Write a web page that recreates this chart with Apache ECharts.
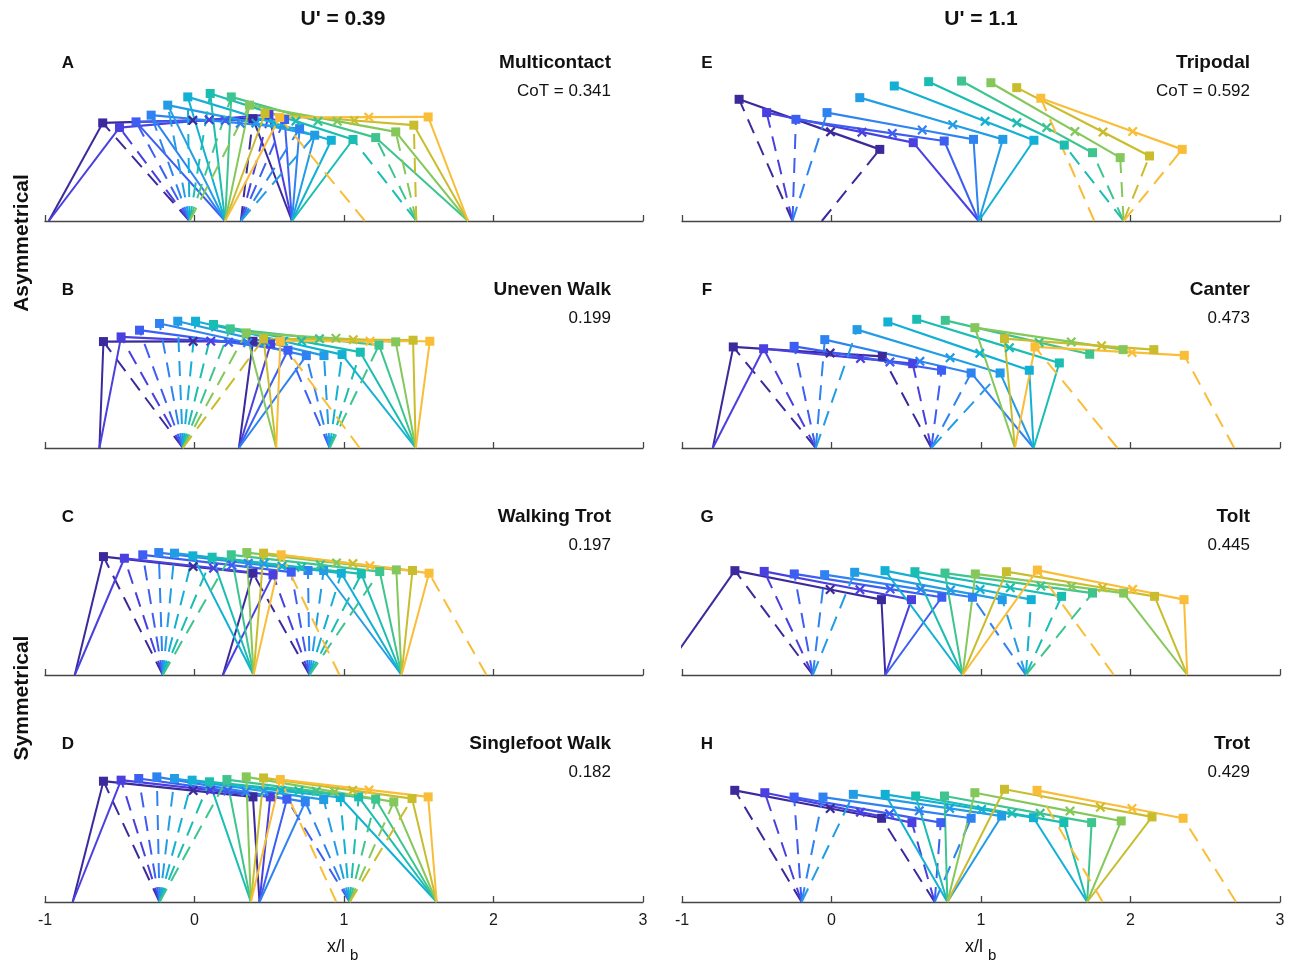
<!DOCTYPE html>
<html><head><meta charset="utf-8">
<script src="https://cdn.jsdelivr.net/npm/echarts/dist/echarts.min.js"></script>
<style>html,body{margin:0;padding:0;background:#fff}#c{width:1297px;height:966px}</style>
</head><body><div id="c"></div>
<script>
// ---------- text / labels ----------
const speedTitles = ["U' = 0.39", "U' = 1.1"];
const rowLabels = ["Asymmetrical", "Symmetrical"];
const panelLetters = ["A","B","C","D","E","F","G","H"];
const gaitNames = ["Multicontact","Uneven Walk","Walking Trot","Singlefoot Walk","Tripodal","Canter","Tolt","Trot"];
const cotValues = [0.341, 0.199, 0.197, 0.182, 0.592, 0.473, 0.445, 0.429];
const xTickValues = [-1, 0, 1, 2, 3];
const comFraction = [0.60, 0.65]; // COM position along the body (hip -> shoulder), per column

// ---------- A: Multicontact ----------
const A_hipX = [-0.614,-0.502,-0.391,-0.290,-0.179,-0.045,0.105,0.246,0.368,0.472,0.570];
const A_hipY = [0.656,0.625,0.663,0.708,0.775,0.830,0.853,0.830,0.775,0.719,0.692];
const A_shX  = [0.391,0.498,0.603,0.703,0.804,0.915,1.060,1.212,1.346,1.467,1.563];
const A_shY  = [0.685,0.712,0.679,0.618,0.574,0.540,0.545,0.558,0.596,0.641,0.696];
const A_legs = [
 [1,'H',-0.975,'stance'],[1,'H',-0.033,'swing'],[1,'F',0.652,'stance'],[1,'F',0.31,'swing'],
 [2,'H',-0.975,'stance'],[2,'H',-0.033,'swing'],[2,'F',0.652,'stance'],[2,'F',0.31,'swing'],
 [3,'H',0.205,'stance'],[3,'H',-0.033,'swing'],[3,'F',0.652,'stance'],[3,'F',0.31,'swing'],
 [4,'H',0.205,'stance'],[4,'H',-0.033,'swing'],[4,'F',0.652,'stance'],[4,'F',0.31,'swing'],
 [5,'H',0.205,'stance'],[5,'H',-0.033,'swing'],[5,'F',0.652,'stance'],[5,'F',0.31,'swing'],
 [6,'H',0.205,'stance'],[6,'H',-0.033,'swing'],[6,'F',0.652,'stance'],
 [7,'H',0.205,'stance'],[7,'H',-0.033,'swing'],[7,'F',0.652,'stance'],[7,'F',1.484,'swing'],
 [8,'H',0.205,'stance'],[8,'H',-0.033,'swing'],[8,'F',1.484,'swing'],[8,'F',1.83,'stance'],
 [9,'H',0.205,'stance'],[9,'H',-0.033,'swing'],[9,'F',1.484,'swing'],[9,'F',1.83,'stance'],
 [10,'H',0.205,'stance'],[10,'F',1.484,'swing'],[10,'F',1.83,'stance'],
 [11,'H',0.205,'stance'],[11,'H',1.14,'swing'],[11,'F',1.83,'stance']
];

// ---------- B: Uneven Walk ----------
const B_hipX = [-0.609,-0.491,-0.368,-0.234,-0.112,0.007,0.127,0.239,0.346,0.462,0.574];
const B_hipY = [0.712,0.743,0.788,0.833,0.848,0.848,0.826,0.797,0.770,0.730,0.714];
const B_shX  = [0.391,0.509,0.625,0.748,0.866,0.987,1.109,1.234,1.346,1.462,1.574];
const B_shY  = [0.714,0.696,0.654,0.618,0.618,0.625,0.641,0.688,0.710,0.721,0.714];
const B_legs = [
 [1,'H',-0.636,'stance'],[1,'H',-0.078,'swing'],[1,'F',0.297,'stance'],
 [2,'H',-0.636,'stance'],[2,'H',-0.078,'swing'],[2,'F',0.297,'stance'],
 [3,'H',-0.078,'swing'],[3,'F',0.297,'stance'],[3,'F',0.904,'swing'],
 [4,'H',-0.078,'swing'],[4,'F',0.297,'stance'],[4,'F',0.904,'swing'],
 [5,'H',-0.078,'swing'],[5,'F',0.904,'swing'],
 [6,'H',-0.078,'swing'],[6,'F',0.904,'swing'],[6,'F',1.48,'stance'],
 [7,'H',-0.078,'swing'],[7,'F',0.904,'swing'],[7,'F',1.48,'stance'],
 [8,'H',-0.078,'swing'],[8,'F',0.904,'swing'],[8,'F',1.48,'stance'],
 [9,'H',0.547,'stance'],[9,'H',-0.078,'swing'],[9,'F',1.48,'stance'],
 [10,'H',0.547,'stance'],[10,'H',-0.078,'swing'],[10,'F',1.48,'stance'],
 [11,'H',0.547,'stance'],[11,'H',1.105,'swing'],[11,'F',1.48,'stance']
];

// ---------- C: Walking Trot ----------
const C_hipX = [-0.609,-0.469,-0.346,-0.239,-0.134,-0.011,0.118,0.246,0.350,0.462,0.580];
const C_hipY = [0.792,0.781,0.804,0.819,0.815,0.797,0.788,0.804,0.819,0.815,0.804];
const C_shX  = [0.391,0.525,0.647,0.759,0.864,0.982,1.116,1.239,1.350,1.458,1.569];
const C_shY  = [0.681,0.670,0.688,0.699,0.699,0.681,0.676,0.692,0.703,0.699,0.681];
const C_legs = [
 [1,'H',-0.801,'stance'],[1,'H',-0.212,'swing'],[1,'F',0.19,'stance'],[1,'F',0.77,'swing'],
 [2,'H',-0.801,'stance'],[2,'H',-0.212,'swing'],[2,'F',0.19,'stance'],[2,'F',0.77,'swing'],
 [3,'H',-0.212,'swing'],[3,'F',0.77,'swing'],
 [4,'H',-0.212,'swing'],[4,'F',0.77,'swing'],
 [5,'H',-0.212,'swing'],[5,'F',0.77,'swing'],[5,'F',1.385,'stance'],
 [6,'H',0.395,'stance'],[6,'H',-0.212,'swing'],[6,'F',0.77,'swing'],[6,'F',1.385,'stance'],
 [7,'H',0.395,'stance'],[7,'H',-0.212,'swing'],[7,'F',0.77,'swing'],[7,'F',1.385,'stance'],
 [8,'H',0.395,'stance'],[8,'H',-0.212,'swing'],[8,'F',0.77,'swing'],[8,'F',1.385,'stance'],
 [9,'H',0.395,'stance'],[9,'F',1.385,'stance'],
 [10,'H',0.395,'stance'],[10,'F',1.385,'stance'],
 [11,'H',0.395,'stance'],[11,'H',0.97,'swing'],[11,'F',1.385,'stance'],[11,'F',1.953,'swing']
];

// ---------- D: Singlefoot Walk ----------
const D_hipX = [-0.609,-0.491,-0.373,-0.252,-0.134,-0.016,0.100,0.217,0.346,0.462,0.574];
const D_hipY = [0.808,0.815,0.826,0.837,0.826,0.815,0.804,0.819,0.837,0.830,0.819];
const D_shX  = [0.391,0.507,0.618,0.741,0.864,0.975,1.098,1.212,1.333,1.455,1.563];
const D_shY  = [0.703,0.703,0.688,0.670,0.685,0.699,0.703,0.688,0.670,0.692,0.703];
const D_legs = [
 [1,'H',-0.815,'stance'],[1,'H',-0.234,'swing'],[1,'F',0.435,'stance'],
 [2,'H',-0.815,'stance'],[2,'H',-0.234,'swing'],[2,'F',0.435,'stance'],
 [3,'H',-0.234,'swing'],[3,'F',0.435,'stance'],[3,'F',1.038,'swing'],
 [4,'H',-0.234,'swing'],[4,'F',0.435,'stance'],[4,'F',1.038,'swing'],
 [5,'H',-0.234,'swing'],[5,'F',1.038,'swing'],
 [6,'H',-0.234,'swing'],[6,'F',1.038,'swing'],[6,'F',1.62,'stance'],
 [7,'H',0.377,'stance'],[7,'H',-0.234,'swing'],[7,'F',1.038,'swing'],[7,'F',1.62,'stance'],
 [8,'H',0.377,'stance'],[8,'H',-0.234,'swing'],[8,'F',1.038,'swing'],[8,'F',1.62,'stance'],
 [9,'H',0.377,'stance'],[9,'F',1.038,'swing'],[9,'F',1.62,'stance'],
 [10,'H',0.377,'stance'],[10,'F',1.038,'swing'],[10,'F',1.62,'stance'],
 [11,'H',0.377,'stance'],[11,'H',0.949,'swing'],[11,'F',1.62,'stance']
];

// ---------- E: Tripodal ----------
const E_hipX = [-0.618,-0.434,-0.238,-0.030,0.189,0.420,0.650,0.870,1.066,1.239,1.400];
const E_hipY = [0.814,0.725,0.680,0.725,0.825,0.903,0.932,0.936,0.925,0.892,0.821];
const E_shX  = [0.323,0.547,0.754,0.950,1.146,1.354,1.557,1.746,1.931,2.127,2.346];
const E_shY  = [0.479,0.524,0.535,0.546,0.546,0.540,0.508,0.457,0.424,0.435,0.479];
const E_legs = [
 [1,'H',-0.261,'swing'],[1,'F',-0.065,'swing'],
 [2,'H',-0.261,'swing'],[2,'F',0.985,'stance'],
 [3,'H',-0.261,'swing'],[3,'F',0.985,'stance'],
 [4,'H',-0.261,'swing'],[4,'F',0.985,'stance'],
 [5,'F',0.985,'stance'],
 [6,'F',0.985,'stance'],
 [7,'F',1.954,'swing'],
 [8,'F',1.954,'swing'],
 [9,'F',1.954,'swing'],
 [10,'F',1.954,'swing'],
 [11,'H',1.758,'swing'],[11,'F',1.954,'swing']
];

// ---------- F: Canter ----------
const F_hipX = [-0.657,-0.454,-0.250,-0.045,0.171,0.377,0.570,0.761,0.959,1.157,1.361];
const F_hipY = [0.676,0.664,0.680,0.725,0.792,0.843,0.861,0.854,0.805,0.731,0.676];
const F_shX  = [0.340,0.543,0.736,0.934,1.128,1.323,1.524,1.727,1.951,2.156,2.360];
const F_shY  = [0.613,0.564,0.520,0.502,0.502,0.520,0.569,0.627,0.658,0.658,0.620];
const F_legs = [
 [1,'H',-0.794,'stance'],[1,'H',-0.105,'swing'],[1,'F',0.668,'swing'],
 [2,'H',-0.794,'stance'],[2,'H',-0.105,'swing'],[2,'F',0.668,'swing'],
 [3,'H',-0.105,'swing'],[3,'F',0.668,'swing'],
 [4,'H',-0.105,'swing'],[4,'F',0.668,'swing'],[4,'F',1.352,'stance'],
 [5,'H',-0.105,'swing'],[5,'F',0.668,'swing'],[5,'F',1.352,'stance'],
 [6,'F',1.352,'stance'],
 [7,'F',1.352,'stance'],
 [9,'H',1.227,'stance'],
 [10,'H',1.227,'stance'],
 [11,'H',1.227,'stance'],[11,'H',1.913,'swing'],[11,'F',2.694,'swing']
];

// ---------- G: Tolt ----------
const G_hipX = [-0.646,-0.450,-0.249,-0.046,0.155,0.358,0.558,0.759,0.962,1.170,1.377];
const G_hipY = [0.698,0.693,0.676,0.671,0.687,0.698,0.691,0.682,0.676,0.691,0.702];
const G_shX  = [0.334,0.535,0.738,0.943,1.142,1.336,1.539,1.746,1.954,2.161,2.358];
const G_shY  = [0.504,0.504,0.520,0.520,0.504,0.504,0.526,0.548,0.548,0.526,0.504];
const G_legs = [
 [1,'H',-1.137,'stance'],[1,'H',-0.125,'swing'],[1,'F',0.36,'stance'],
 [2,'H',-0.125,'swing'],[2,'F',0.36,'stance'],
 [3,'H',-0.125,'swing'],[3,'F',0.36,'stance'],
 [4,'H',-0.125,'swing'],[4,'F',1.30,'swing'],
 [5,'H',-0.125,'swing'],[5,'F',1.30,'swing'],
 [6,'H',0.877,'stance'],[6,'F',1.30,'swing'],
 [7,'H',0.877,'stance'],[7,'F',1.30,'swing'],
 [8,'H',0.877,'stance'],[8,'F',1.30,'swing'],
 [9,'H',0.877,'stance'],[9,'F',2.38,'stance'],
 [10,'H',0.877,'stance'],[10,'F',2.38,'stance'],
 [11,'H',0.877,'stance'],[11,'H',1.889,'swing'],[11,'F',2.38,'stance']
];

// ---------- H: Trot ----------
const H_hipX = [-0.647,-0.446,-0.250,-0.057,0.146,0.359,0.563,0.756,0.959,1.157,1.375];
const H_hipY = [0.747,0.731,0.702,0.702,0.720,0.720,0.709,0.709,0.731,0.754,0.747];
const H_shX  = [0.335,0.538,0.731,0.934,1.138,1.351,1.554,1.740,1.938,2.144,2.352];
const H_shY  = [0.560,0.531,0.531,0.560,0.575,0.564,0.531,0.531,0.542,0.569,0.560];
const H_legs = [
 [1,'H',-0.2,'swing'],[1,'F',0.69,'swing'],
 [2,'H',-0.2,'swing'],[2,'F',0.69,'swing'],
 [3,'H',-0.2,'swing'],[3,'F',0.69,'swing'],
 [4,'H',-0.2,'swing'],[4,'F',0.69,'swing'],
 [5,'H',-0.2,'swing'],[5,'F',0.775,'stance'],
 [6,'H',0.775,'stance'],[6,'F',1.71,'stance'],
 [7,'H',0.775,'stance'],[7,'F',1.71,'stance'],
 [8,'H',0.775,'stance'],[8,'F',1.71,'stance'],
 [9,'H',0.775,'stance'],[9,'F',1.71,'stance'],
 [10,'H',0.775,'stance'],[10,'F',1.71,'stance'],
 [11,'H',1.814,'swing'],[11,'F',2.706,'swing']
];

// ---------- styling ----------
const frameColors = ['#3b2a9c','#4a3fdf','#3d5ef2','#2f82f2','#239ce6','#12b0d4','#19bdb2','#3ec48e','#84c85b','#c9bd2e','#f9bd38'];
const FONT = '"Liberation Sans", Arial, Helvetica, sans-serif';
const GROUND_PX = [221, 448, 675, 902];
const COL_LEFT = [45, 682];
const PLOT_W = 598;
const UNIT = PLOT_W / 4;
const YMAX = 1.1;
const PLOT_H = YMAX * UNIT;
const XSYM = 'path://M1.6,0 L5,3.4 L8.4,0 L10,1.6 L6.6,5 L10,8.4 L8.4,10 L5,6.6 L1.6,10 L0,8.4 L3.4,5 L0,1.6 Z';

const panels = [
  [A_hipX,A_hipY,A_shX,A_shY,A_legs],[B_hipX,B_hipY,B_shX,B_shY,B_legs],
  [C_hipX,C_hipY,C_shX,C_shY,C_legs],[D_hipX,D_hipY,D_shX,D_shY,D_legs],
  [E_hipX,E_hipY,E_shX,E_shY,E_legs],[F_hipX,F_hipY,F_shX,F_shY,F_legs],
  [G_hipX,G_hipY,G_shX,G_shY,G_legs],[H_hipX,H_hipY,H_shX,H_shY,H_legs]
];

const grid = [], xAxis = [], yAxis = [], series = [], graphic = [];

panels.forEach((p, gi) => {
  const col = Math.floor(gi / 4), row = gi % 4;
  const ground = GROUND_PX[row];
  grid.push({left: COL_LEFT[col], width: PLOT_W, top: ground - PLOT_H, height: PLOT_H});
  xAxis.push({
    gridIndex: gi, type: 'value', min: xTickValues[0], max: xTickValues[xTickValues.length - 1], interval: 1,
    axisLine: {show: true, lineStyle: {color: '#454545', width: 1.3}},
    axisTick: {show: true, inside: true, length: 6, lineStyle: {color: '#454545', width: 1.3}},
    axisLabel: {show: row === 3, fontSize: 16, color: '#1a1a1a', margin: 11, fontFamily: FONT},
    splitLine: {show: false}
  });
  yAxis.push({gridIndex: gi, type: 'value', min: 0, max: YMAX, show: false});

  const [hipX, hipY, shX, shY, legs] = p;
  const frac = comFraction[col];
  for (let f = 0; f < hipX.length; f++) {
    const color = frameColors[f];
    legs.filter(l => l[0] === f + 1).forEach(l => {
      const start = l[1] === 'H' ? [hipX[f], hipY[f]] : [shX[f], shY[f]];
      series.push({
        type: 'line', xAxisIndex: gi, yAxisIndex: gi, silent: true, animation: false, clip: true,
        symbol: 'none', data: [[l[2], 0], start],
        lineStyle: {color: color, width: 2, type: l[3] === 'swing' ? [15, 9] : 'solid', cap: 'butt'}
      });
    });
    const cx = hipX[f] + frac * (shX[f] - hipX[f]);
    const cy = hipY[f] + frac * (shY[f] - hipY[f]);
    series.push({
      type: 'line', xAxisIndex: gi, yAxisIndex: gi, silent: true, animation: false, clip: false,
      showSymbol: true, showAllSymbol: true,
      data: [
        {value: [hipX[f], hipY[f]], symbol: 'rect', symbolSize: 9},
        {value: [cx, cy], symbol: XSYM, symbolSize: 10},
        {value: [shX[f], shY[f]], symbol: 'rect', symbolSize: 9}
      ],
      itemStyle: {color: color, borderWidth: 0},
      lineStyle: {color: color, width: 2.2}
    });
  }

  // panel texts
  const letterX = col === 0 ? 68 : 707;
  const rightX = col === 0 ? 611 : 1250;
  graphic.push({type: 'text', x: letterX, y: ground - 158, style: {text: panelLetters[gi], font: 'bold 17px ' + FONT, fill: '#111', textAlign: 'center', textVerticalAlign: 'middle'}});
  graphic.push({type: 'text', x: rightX, y: ground - 158, style: {text: gaitNames[gi], font: 'bold 19px ' + FONT, fill: '#111', textAlign: 'right', textVerticalAlign: 'middle'}});
  const cotText = (row === 0 ? 'CoT = ' : '') + cotValues[gi].toFixed(3);
  graphic.push({type: 'text', x: rightX, y: ground - 130, style: {text: cotText, font: '17px ' + FONT, fill: '#111', textAlign: 'right', textVerticalAlign: 'middle'}});
});

// column titles
[343, 981].forEach((cx, i) => {
  graphic.push({type: 'text', x: cx, y: 19, style: {text: speedTitles[i], font: 'bold 21px ' + FONT, fill: '#111', textAlign: 'center', textVerticalAlign: 'middle'}});
  // x axis label x/l_b
  graphic.push({type: 'text', x: cx - 16, y: 947, style: {text: 'x/l', font: '18px ' + FONT, fill: '#111', textAlign: 'left', textVerticalAlign: 'middle'}});
  graphic.push({type: 'text', x: cx + 7, y: 956, style: {text: 'b', font: '15px ' + FONT, fill: '#111', textAlign: 'left', textVerticalAlign: 'middle'}});
});
// row labels
[243, 698].forEach((cy, i) => {
  graphic.push({type: 'text', x: 22, y: cy, rotation: Math.PI / 2, style: {text: rowLabels[i], font: 'bold 21px ' + FONT, fill: '#111', textAlign: 'center', textVerticalAlign: 'middle'}});
});

const chart = echarts.init(document.getElementById('c'), null, {renderer: 'canvas'});
chart.setOption({backgroundColor: '#ffffff', animation: false, grid, xAxis, yAxis, series, graphic});
</script></body></html>
